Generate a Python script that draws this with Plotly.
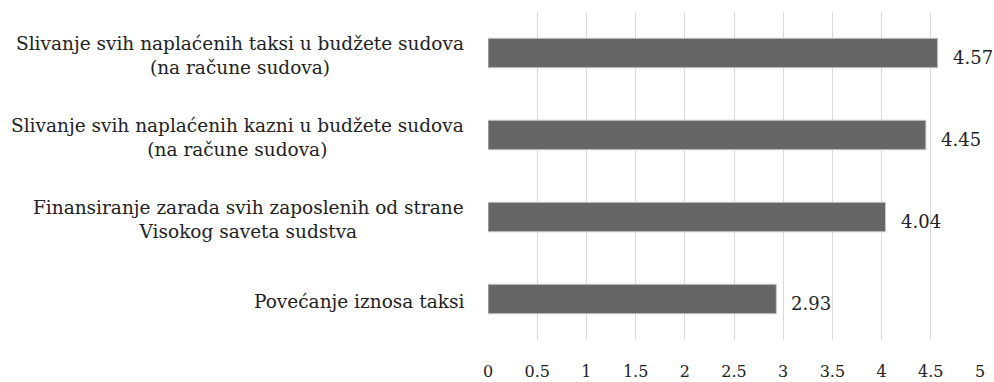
import plotly.graph_objects as go

categories = [
    "Slivanje svih naplaćenih taksi u budžete sudova<br>(na račune sudova)",
    "Slivanje svih naplaćenih kazni u budžete sudova<br>(na račune sudova)",
    "Finansiranje zarada svih zaposlenih od strane<br>Visokog saveta sudstva",
    "Povećanje iznosa taksi",
]
values = [4.57, 4.45, 4.04, 2.93]
tick_vals = [0, 0.5, 1, 1.5, 2, 2.5, 3, 3.5, 4, 4.5, 5]
tick_text = ["0", "0.5", "1", "1.5", "2", "2.5", "3", "3.5", "4", "4.5", "5"]

FONT = "DejaVu Serif"
INK = "#222222"

fig = go.Figure(
    go.Bar(
        x=values,
        y=list(range(len(categories))),
        orientation="h",
        marker=dict(color="#666666", line=dict(color="#c8c8c8", width=1)),
        hoverinfo="x",
    )
)

# category labels as centred multi-line annotations left of the plot
for i, c in enumerate(categories):
    fig.add_annotation(
        x=0, xref="paper", y=i, yref="y",
        text=c, showarrow=False, xanchor="right", align="center",
        xshift=-22, yshift=-2, font=dict(family=FONT, size=18.5, color=INK),
    )

# value labels just past the end of each bar
for i, v in enumerate(values):
    fig.add_annotation(
        x=v, xref="x", y=i, yref="y",
        text=f"{v:.2f}", showarrow=False, xanchor="left",
        xshift=13, yshift=-4, font=dict(family=FONT, size=18, color=INK),
    )

fig.update_layout(
    width=994, height=382,
    margin=dict(l=488, r=14, t=12, b=42),
    paper_bgcolor="white", plot_bgcolor="white",
    bargap=0.64, showlegend=False,
    xaxis=dict(
        range=[0, 5], tickvals=tick_vals, ticktext=tick_text,
        showgrid=True, gridcolor="#d9d9d9", gridwidth=1,
        zeroline=False, showline=False, ticks="",
        ticklabelstandoff=20, automargin=False,
        tickfont=dict(family=FONT, size=16, color=INK),
    ),
    yaxis=dict(
        range=[3.5, -0.5], showticklabels=False, showgrid=False,
        zeroline=False, showline=False, automargin=False,
    ),
)

fig.write_html("out.html")
